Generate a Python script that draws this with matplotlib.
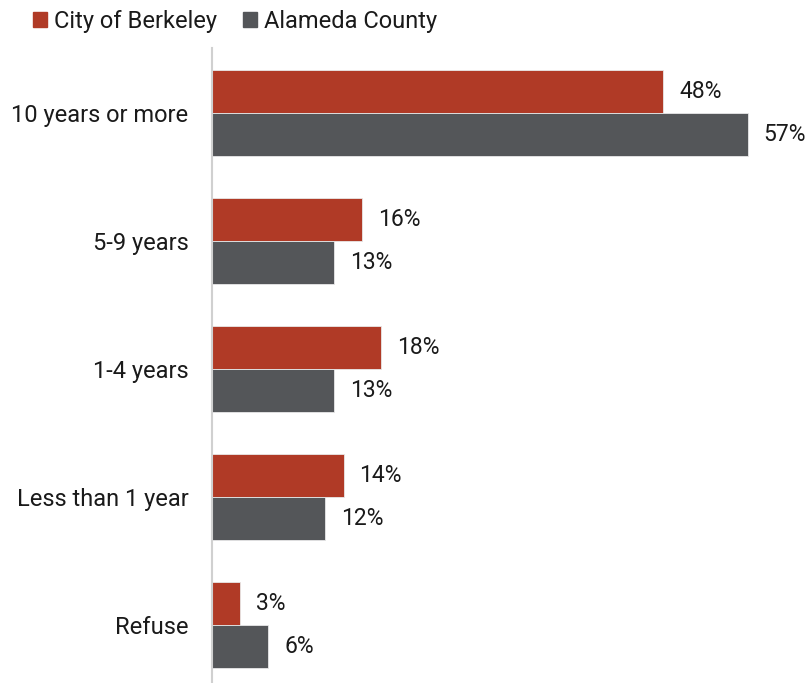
import numpy as np
import matplotlib.pyplot as plt
from matplotlib.patches import Patch

plt.rcParams['font.family'] = ['Roboto', 'DejaVu Sans']

categories = ["10 years or more", "5-9 years", "1-4 years", "Less than 1 year", "Refuse"]
berkeley = [48, 16, 18, 14, 3]
alameda = [57, 13, 13, 12, 6]
series_names = ["City of Berkeley", "Alameda County"]
colors = ["#B03A26", "#545659"]

fig = plt.figure(figsize=(8.09, 6.83), dpi=100)
ax = fig.add_axes([0.262, 0.0, 0.697, 0.93])

y = np.arange(len(categories))
h = 0.336
b1 = ax.barh(y - h / 2, berkeley, height=h, color=colors[0], edgecolor="#e8e8e8", linewidth=0.6)
b2 = ax.barh(y + h / 2, alameda, height=h, color=colors[1], edgecolor="#e8e8e8", linewidth=0.6)

for bars, vals in [(b1, berkeley), (b2, alameda)]:
    for bar, v in zip(bars, vals):
        ax.text(bar.get_width() + 1.7, bar.get_y() + bar.get_height() / 2, f"{v}%",
                va="center", ha="left", fontsize=16.5, color="#1a1a1a")

ax.set_yticks(y)
ax.set_yticklabels(categories, fontsize=17, color="#1a1a1a")
ax.tick_params(axis="y", length=0, pad=17)
ax.set_xticks([])
ax.set_xlim(0, 60)
ax.set_ylim(4.453, -0.508)
for s in ["top", "right", "bottom"]:
    ax.spines[s].set_visible(False)
ax.spines["left"].set_color("#d0d0d0")
ax.spines["left"].set_linewidth(1.5)

handles = [Patch(color=c, label=n) for c, n in zip(colors, series_names)]
fig.legend(handles=handles, loc="upper left", bbox_to_anchor=(0.014, 1.017), ncol=2,
           frameon=False, fontsize=17, handlelength=0.6, handleheight=0.6,
           handletextpad=0.3, columnspacing=1.1, labelcolor="#1a1a1a")

fig.savefig("out.png", dpi=100)
